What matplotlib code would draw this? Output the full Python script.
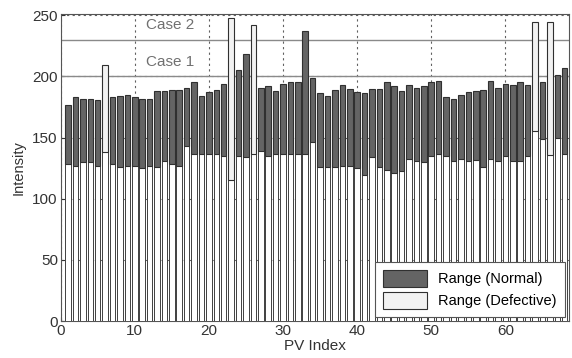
import numpy as np
import matplotlib
matplotlib.use('Agg')
import matplotlib.pyplot as plt

plt.rcParams['font.family'] = ['Liberation Sans', 'DejaVu Sans']

# PV index and lower / upper intensity of each range
pv_index = np.arange(1, 69)
range_low = [128.7, 126.8, 129.7, 129.7, 126.8, 138.4, 128.7, 126.2, 126.8, 126.8,
             124.9, 126.8, 125.7, 130.8, 128.7, 126.8, 142.7, 136.8, 136.8, 136.8,
             136.8, 134.6, 115.6, 135.2, 133.8, 136.8, 139.2, 135.2, 136.8, 136.8,
             136.8, 136.8, 136.8, 146.0, 125.7, 125.7, 125.7, 126.5, 126.5, 124.9,
             119.4, 133.8, 125.7, 123.5, 120.8, 123.0, 132.2, 130.5, 129.7, 134.6,
             136.8, 134.6, 130.5, 132.2, 130.5, 131.4, 125.7, 132.2, 130.5, 134.6,
             130.5, 130.5, 134.6, 155.0, 148.5, 135.4, 149.3, 136.8]
range_high = [176.5, 183.2, 181.3, 181.3, 181.0, 209.3, 183.2, 183.8, 184.6, 183.2,
              181.8, 181.8, 187.8, 187.8, 189.2, 189.2, 190.5, 195.2, 184.3, 187.3,
              189.2, 193.5, 247.5, 205.2, 218.5, 241.8, 190.2, 191.9, 187.8, 193.5,
              195.2, 195.2, 237.0, 198.7, 186.2, 184.0, 188.9, 192.7, 189.7, 187.3,
              186.2, 189.7, 189.7, 195.0, 191.9, 188.1, 192.7, 190.5, 191.9, 195.2,
              196.0, 183.5, 181.8, 184.8, 187.3, 187.8, 189.2, 196.5, 190.5, 193.5,
              192.7, 195.0, 192.7, 244.3, 195.7, 244.3, 200.9, 207.1]
defective_pv = [6, 23, 26, 64, 66]
case_levels = [200, 230]
case_labels = ['Case 1', 'Case 2']

low = np.array(range_low)
high = np.array(range_high)
is_def = np.isin(pv_index, defective_pv)

fig = plt.figure(figsize=(5.72, 3.58), dpi=100)
ax = fig.add_axes([0.106, 0.103, 0.889, 0.858])

w = 0.75
edge = '#303030'
ax.bar(pv_index, low, width=w, color='white', edgecolor='#404040', linewidth=0.7, zorder=3)
ax.bar(pv_index[~is_def], (high - low)[~is_def], bottom=low[~is_def], width=w,
       color='#646464', edgecolor=edge, linewidth=0.8, zorder=3, label='Range (Normal)')
ax.bar(pv_index[is_def], (high - low)[is_def], bottom=low[is_def], width=w,
       color='#f2f2f2', edgecolor=edge, linewidth=0.8, zorder=3, label='Range (Defective)')

for lev, lab in zip(case_levels, case_labels):
    ax.axhline(lev, color='#8a8a8a', linewidth=1.0, zorder=1)
    ax.text(14.8, lev + 12, lab, ha='center', va='center', fontsize=11, color='#707070')

ax.set_xlim(0, 68.6)
ax.set_ylim(0, 251)
ax.set_xticks(np.arange(0, 61, 10))
ax.set_yticks(np.arange(0, 251, 50))
ax.grid(True, linestyle=(0, (2, 3)), color='#606060', linewidth=0.8, zorder=0)
ax.set_axisbelow(True)
ax.tick_params(direction='in', length=3, labelsize=11, colors='#333333', pad=2)
for s in ax.spines.values():
    s.set_color('#555555')
    s.set_linewidth(0.8)

ax.set_xlabel('PV Index', fontsize=11, color='#333333', labelpad=1)
ax.set_ylabel('Intensity', fontsize=10.5, color='#333333', labelpad=5)

leg = ax.legend(loc='lower right', fontsize=10.5, fancybox=False, framealpha=1,
                edgecolor='#555555', handlelength=3.0, handleheight=1.4,
                borderaxespad=0.3, labelspacing=0.35, borderpad=0.55)
leg.get_frame().set_linewidth(0.8)
leg.set_zorder(5)

fig.savefig('out.png', dpi=100)
